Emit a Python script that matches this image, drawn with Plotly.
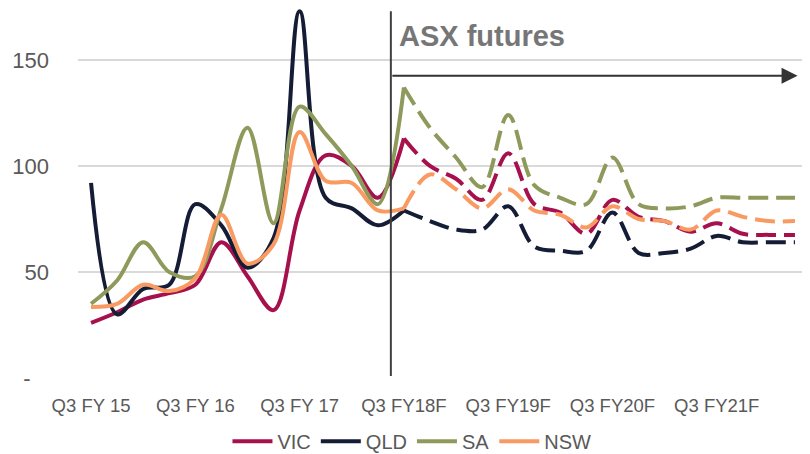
import plotly.graph_objects as go

# quarterly categories, history then ASX futures
quarters = [
    "Q3 FY 15", "Q4 FY 15", "Q1 FY 16", "Q2 FY 16", "Q3 FY 16", "Q4 FY 16",
    "Q1 FY 17", "Q2 FY 17", "Q3 FY 17", "Q4 FY 17", "Q1 FY 18", "Q2 FY 18",
    "Q3 FY18F", "Q4 FY18F", "Q1 FY19F", "Q2 FY19F", "Q3 FY19F", "Q4 FY19F",
    "Q1 FY20F", "Q2 FY20F", "Q3 FY20F", "Q4 FY20F", "Q1 FY21F", "Q2 FY21F",
    "Q3 FY21F", "Q4 FY21F", "Q1 FY22F", "Q2 FY22F",
]
hist_q = quarters[:13]
fut_q = quarters[12:]

vic_hist = [26, 31, 37, 40, 44, 64, 48, 32, 79, 105, 100, 85, 113]
qld_hist = [92, 30, 42, 44, 82, 72, 52, 66, 173, 85, 80, 72, 79]
sa_hist = [35, 46, 64, 50, 48, 80, 118, 73, 128, 115, 100, 82, 137]
nsw_hist = [33.5, 35, 44, 41, 47, 77, 54, 63, 116, 93, 92, 79, 80]

vic_fut = [113, 100, 94, 84, 106, 82, 78, 68, 84, 76, 74, 69, 73, 68, 67.5, 67.5]
qld_fut = [79, 74, 70, 70, 81, 62, 60, 60, 78, 59, 59, 61, 67, 64, 64, 64]
sa_fut = [137, 118, 104, 90, 124, 91, 85, 82, 104, 82, 80, 81, 85, 85, 85, 85]
nsw_fut = [80, 96, 89, 80, 89, 79, 77, 71, 81, 75, 74, 70, 79, 76, 74, 74]

series = [
    ("VIC", "#A6104C", vic_hist, vic_fut),
    ("QLD", "#151C35", qld_hist, qld_fut),
    ("SA", "#8E9A5B", sa_hist, sa_fut),
    ("NSW", "#F89A62", nsw_hist, nsw_fut),
]

FONT = "Liberation Sans, Arial"
GREY = "#595959"

fig = go.Figure()
for name, color, hist, fut in series:
    fig.add_trace(go.Scatter(
        x=hist_q, y=hist, name=name, legendgroup=name, mode="lines",
        line=dict(color=color, width=4, shape="spline", smoothing=1),
    ))
    fig.add_trace(go.Scatter(
        x=fut_q, y=fut, name=name, legendgroup=name, showlegend=False, mode="lines",
        line=dict(color=color, width=4, shape="spline", smoothing=1, dash="20px,8px"),
    ))

# start of the futures period
fig.add_shape(type="line", xref="x", yref="y", x0=11.5, x1=11.5, y0=1, y1=173,
              line=dict(color="#404040", width=2))
fig.add_annotation(x=27.1, y=142.5, ax=11.5, ay=142.5, xref="x", yref="y",
                   axref="x", ayref="y", text="", showarrow=True, arrowhead=2,
                   arrowsize=1.6, arrowwidth=2, arrowcolor="#333333")
fig.add_annotation(x=11.75, y=161.3, xref="x", yref="y", text="<b>ASX futures</b>",
                   showarrow=False, xanchor="left", yanchor="middle",
                   font=dict(family="Liberation Sans, Arial", size=29, color="#767676"))

# page body has an 8px margin, so the figure is sized/offset to land on the window
fig.update_layout(
    width=810, height=480,
    margin=dict(l=70, r=10, t=0, b=110),
    paper_bgcolor="white", plot_bgcolor="white",
    font=dict(family=FONT, color=GREY),
    showlegend=True,
    legend=dict(orientation="h", x=0.4575, xanchor="center", y=-0.118, yanchor="top",
                font=dict(size=20, color=GREY), itemwidth=40, tracegroupgap=0),
)
fig.update_xaxes(type="category", categoryorder="array", categoryarray=quarters,
                 range=[-0.5, 27.5], dtick=4, showgrid=False, showline=False,
                 ticks="", ticklabelstandoff=14, tickangle=0, automargin=False,
                 tickfont=dict(size=18.5, color=GREY))
fig.update_yaxes(range=[0, 174.5], tickvals=[0, 50, 100, 150],
                 ticktext=["-\u00a0\u00a0\u00a0", "50", "100", "150"],
                 showgrid=True, gridcolor="#D9D9D9", gridwidth=1.5, zeroline=False,
                 showline=False, ticks="", ticklabelstandoff=28, automargin=False,
                 tickfont=dict(size=22, color=GREY))

fig.write_html("out.html")
